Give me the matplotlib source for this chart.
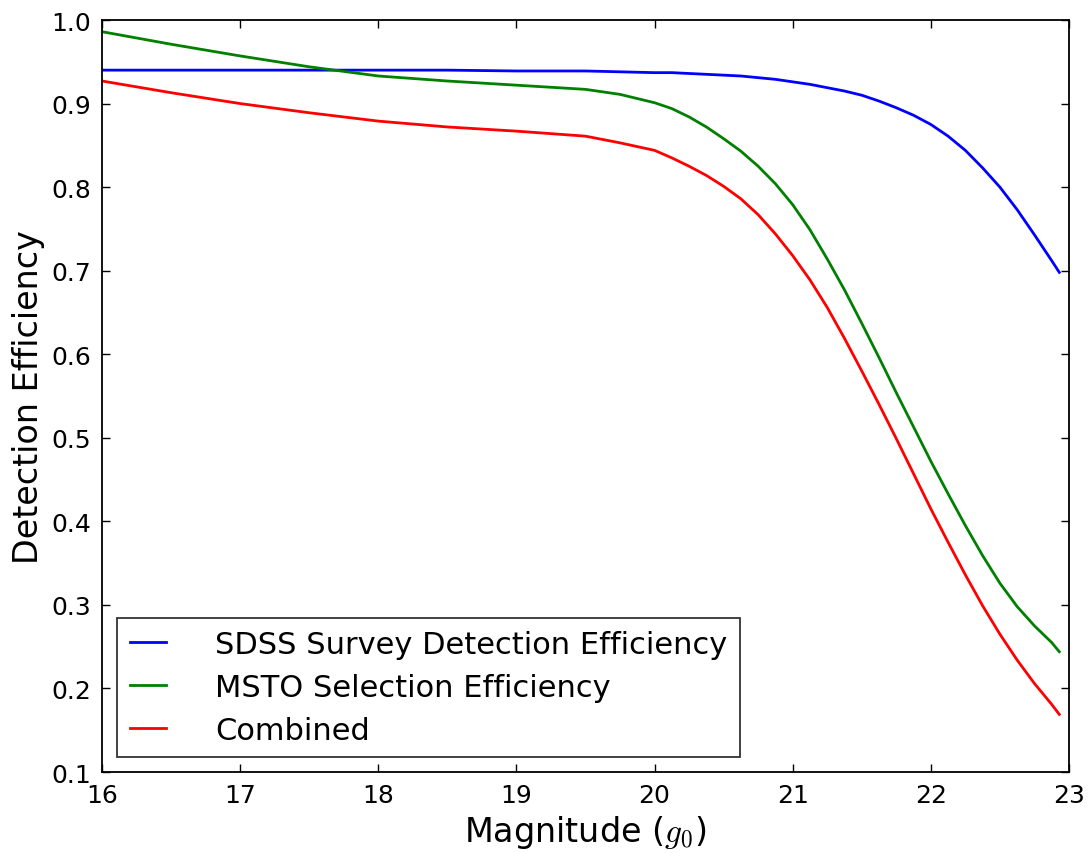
import matplotlib
matplotlib.use("Agg")
import matplotlib.pyplot as plt

plt.rcParams["mathtext.fontset"] = "cm"
plt.rcParams["font.family"] = "DejaVu Sans"

mag = [16.0, 16.5, 17.0, 17.5, 18.0, 18.5, 19.0, 19.5, 19.75,
       20.0, 20.125, 20.25, 20.375, 20.5, 20.625, 20.75, 20.875,
       21.0, 21.125, 21.25, 21.375, 21.5, 21.625, 21.75, 21.875,
       22.0, 22.125, 22.25, 22.375, 22.5, 22.625, 22.75, 22.875, 22.93]

sdss_eff = [0.940, 0.940, 0.940, 0.940, 0.940, 0.940, 0.939, 0.939, 0.938,
            0.937, 0.937, 0.936, 0.935, 0.934, 0.933, 0.931, 0.929,
            0.926, 0.923, 0.919, 0.915, 0.910, 0.903, 0.895, 0.886,
            0.875, 0.861, 0.844, 0.823, 0.800, 0.773, 0.743, 0.712, 0.698]
msto_eff = [0.986, 0.971, 0.957, 0.944, 0.933, 0.927, 0.922, 0.917, 0.911,
            0.901, 0.894, 0.884, 0.872, 0.858, 0.843, 0.825, 0.804,
            0.779, 0.749, 0.714, 0.677, 0.637, 0.596, 0.554, 0.513,
            0.472, 0.433, 0.395, 0.359, 0.326, 0.298, 0.275, 0.255, 0.244]
combined = [0.927, 0.913, 0.900, 0.889, 0.879, 0.872, 0.867, 0.861, 0.853,
            0.844, 0.835, 0.825, 0.814, 0.801, 0.786, 0.767, 0.744,
            0.718, 0.689, 0.656, 0.619, 0.580, 0.540, 0.499, 0.457,
            0.415, 0.375, 0.336, 0.299, 0.265, 0.234, 0.206, 0.181, 0.169]

labels = ["SDSS Survey Detection Efficiency", "MSTO Selection Efficiency", "Combined"]

fig = plt.figure(figsize=(10.9, 8.54), dpi=100)
ax = fig.add_axes([0.0936, 0.0948, 0.8871, 0.8806])

ax.plot(mag, sdss_eff, color="b", lw=2, label=labels[0])
ax.plot(mag, msto_eff, color="g", lw=2, label=labels[1])
ax.plot(mag, combined, color="r", lw=2, label=labels[2])

ax.set_xlim(16, 23)
ax.set_ylim(0.1, 1.0)
ax.set_xticks(range(16, 24))
ax.set_yticks([0.1, 0.2, 0.3, 0.4, 0.5, 0.6, 0.7, 0.8, 0.9, 1.0])
ax.tick_params(direction="in", top=True, right=True, length=5.5, width=1,
               labelsize=18, pad=8)
for s in ax.spines.values():
    s.set_linewidth(1.3)

ax.set_xlabel("Magnitude ($g_0$)", fontsize=24)
ax.set_ylabel("Detection Efficiency", fontsize=24)

leg = ax.legend(loc="lower left", fontsize=22, fancybox=False, borderaxespad=0.5,
                handlelength=1.2, handletextpad=1.6, labelspacing=0.45)
leg.get_frame().set_edgecolor("black")
leg.get_frame().set_linewidth(1.3)

fig.savefig("out.png", dpi=100)
